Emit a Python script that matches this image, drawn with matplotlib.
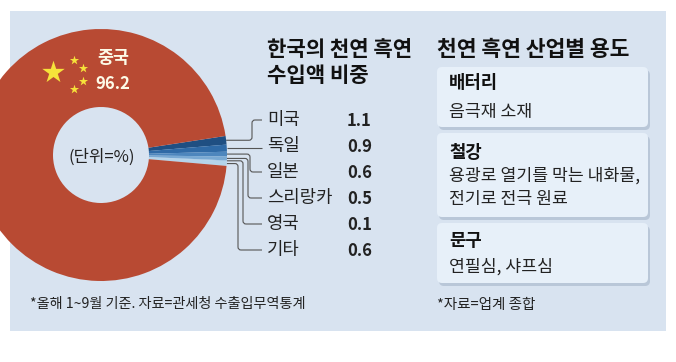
import matplotlib
matplotlib.use('Agg')
import matplotlib.pyplot as plt
import numpy as np
from matplotlib.patches import FancyBboxPatch, Rectangle
from matplotlib.path import Path
from matplotlib.patches import PathPatch

plt.rcParams['font.family'] = ['Noto Sans CJK KR', 'DejaVu Sans']

countries = ['미국', '독일', '일본', '스리랑카', '영국', '기타']
shares = [1.1, 0.9, 0.6, 0.5, 0.1, 0.6]
china_label = '중국'
china_share = 96.2
share_colors = ['#1f4f82', '#2f6aa6', '#4d86bd', '#79a9d3', '#9cc3e2', '#b4d4ea']
china_color = '#b84a33'

title_left = ['한국의 천연 흑연', '수입액 비중']
title_right = '천연 흑연 산업별 용도'
unit_text = '(단위=%)'
note_left = '*올해 1~9월 기준. 자료=관세청 수출입무역통계'
note_right = '*자료=업계 종합'
use_heads = ['배터리', '철강', '문구']
use_bodies = ['음극재 소재', '용광로 열기를 막는 내화물,\n전기로 전극 원료', '연필심, 샤프심']

PANEL = '#d8e3f0'
INK = '#222222'

fig = plt.figure(figsize=(6.76, 3.62), dpi=100, facecolor='white')
ax = fig.add_axes([0, 0, 1, 1])

panel = Rectangle((10, 11), 656, 320, facecolor=PANEL, edgecolor='none', zorder=0)
ax.add_patch(panel)

# donut, y axis runs downward so counterclock reads clockwise on screen
cx, cy, R = 101, 155, 126
start = -8.7
vals = shares + [china_share]
wedges, _ = ax.pie(vals, colors=share_colors + [china_color], startangle=start,
                   counterclock=True, center=(cx, cy), radius=R,
                   wedgeprops=dict(width=R - 48, linewidth=0), frame=False)
for w in wedges:
    w.set_clip_path(panel)
    w.set_zorder(2)

ax.set_xlim(0, 676)
ax.set_ylim(362, 0)
ax.set_aspect('auto')
ax.axis('off')

# flag stars
ax.scatter([53], [72], marker='*', s=290, color='#f6e23a', linewidths=0, zorder=3)
ax.scatter([74, 83, 83, 74], [60, 68, 81, 89], marker='*', s=48, color='#f6e23a',
           linewidths=0, zorder=3)
ax.text(113, 58, china_label, color='#fdfbe8', fontsize=12.5, fontweight='bold',
        ha='center', va='center', zorder=3)
ax.text(113, 84, f'{china_share}', color='#fdfbe8', fontsize=12, fontweight='bold',
        ha='center', va='center', zorder=3)
ax.text(102, 157, unit_text, color=INK, fontsize=12, ha='center', va='center', zorder=3)

# leader lines and rows
row_y = [120, 146, 172, 198, 224, 250]
elbow_x = [252, None, 250, 248, 243, 238]
cum = np.cumsum([0] + vals) / sum(vals) * 360
for i, (name, v) in enumerate(zip(countries, shares)):
    ang = np.radians(start + (cum[i] + cum[i + 1]) / 2)
    y0 = cy + R * np.sin(ang)
    x0 = cx + R * np.cos(ang)
    y1 = row_y[i]
    ex = elbow_x[i]
    if ex is None:
        verts = [(x0, y0), (262, y0)]
        codes = [Path.MOVETO, Path.LINETO]
    else:
        s = 1 if y1 > y0 else -1
        verts = [(x0, y0), (ex - 3, y0), (ex, y0), (ex, y0 + 3 * s),
                 (ex, y1 - 3 * s), (ex, y1), (ex + 3, y1), (262, y1)]
        codes = [Path.MOVETO, Path.LINETO, Path.CURVE3, Path.CURVE3,
                 Path.LINETO, Path.CURVE3, Path.CURVE3, Path.LINETO]
    ax.add_patch(PathPatch(Path(verts, codes), facecolor='none', edgecolor='#555555',
                           linewidth=0.8, zorder=1))
    ax.text(267, y1 + 0.5, name, color=INK, fontsize=12.8, ha='left', va='center')
    ax.text(347, y1 + 0.5, f'{v}', color=INK, fontsize=12, fontweight='bold', ha='left', va='center')

ax.text(267, 49, title_left[0], color='#111111', fontsize=15.2, fontweight='bold', ha='left', va='center')
ax.text(267, 76, title_left[1], color='#111111', fontsize=15.2, fontweight='bold', ha='left', va='center')
ax.text(437, 49, title_right, color='#111111', fontsize=15.5, fontweight='bold', ha='left', va='center')

# right hand boxes
box_top = [67, 133, 223]
box_bottom = [127, 217, 283]
head_y = [83, 153, 241]
body_y = [112, 176, 267]
for head, body, t, b, hy, by in zip(use_heads, use_bodies, box_top, box_bottom, head_y, body_y):
    ax.add_patch(FancyBboxPatch((439, t + 3), 211, b - t, boxstyle='round,pad=0,rounding_size=5',
                                facecolor='#b9c7d8', edgecolor='none', zorder=1))
    ax.add_patch(FancyBboxPatch((437, t), 211, b - t, boxstyle='round,pad=0,rounding_size=5',
                                facecolor='#e7f0f9', edgecolor='none', zorder=2))
    ax.text(449, hy, head, color='#111111', fontsize=12.8, fontweight='bold',
            ha='left', va='center', zorder=3)
    for j, line in enumerate(body.split('\n')):
        ax.text(449, by + j * 23, line, color=INK, fontsize=12.4, ha='left', va='center', zorder=3)

ax.text(30, 304, note_left, color=INK, fontsize=10.2, ha='left', va='center')
ax.text(437, 305, note_right, color=INK, fontsize=10.5, ha='left', va='center')

fig.savefig('out.png', dpi=100, facecolor='white')
plt.close(fig)
